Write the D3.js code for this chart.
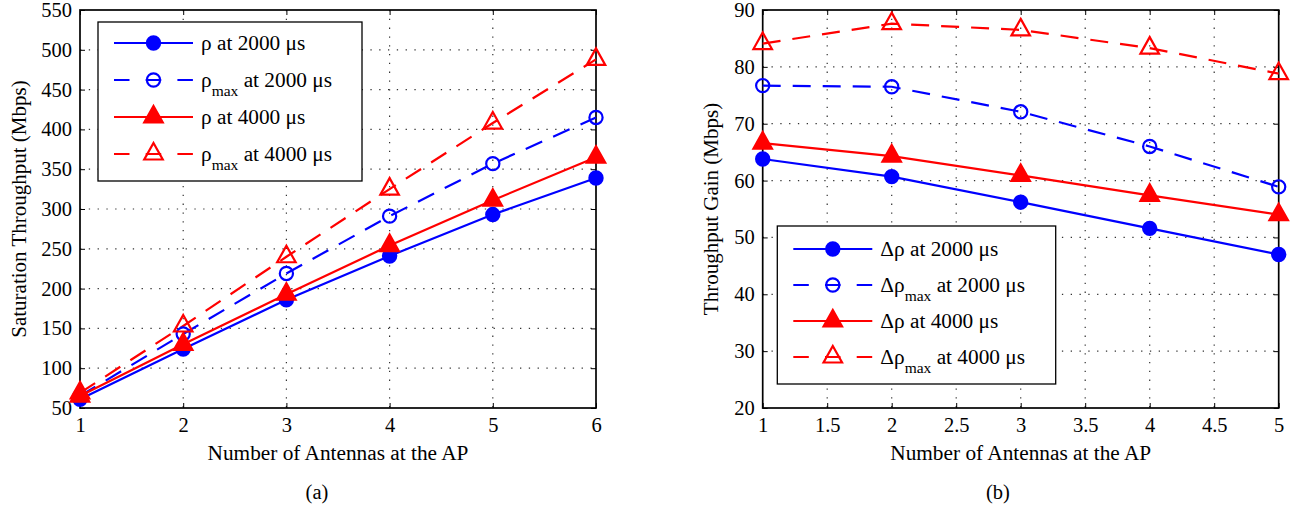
<!DOCTYPE html>
<html>
<head>
<meta charset="utf-8">
<script src="https://cdn.jsdelivr.net/npm/d3@7"></script>
<style>
  html, body { margin: 0; padding: 0; background: #fff; }
  svg { display: block; }
  svg text { font-family: "Liberation Serif", "Times New Roman", "DejaVu Serif", serif; }
</style>
</head>
<body>
<svg id="fig" width="1299" height="508"></svg>
<script>
// ---- (a) Saturation throughput vs. number of AP antennas ----
const antennasA = [1, 2, 3, 4, 5, 6];
const rho2000 = [61, 124, 186, 241, 293, 339];
const rhoMax2000 = [65, 143, 219, 291, 357, 415];
const rho4000 = [65, 130, 193, 254, 311, 365];
const rhoMax4000 = [69, 153, 240, 325, 408, 488];
const ticksXA = [1, 2, 3, 4, 5, 6];
const ticksYA = [50, 100, 150, 200, 250, 300, 350, 400, 450, 500, 550];

// ---- (b) Throughput gain vs. number of AP antennas ----
const antennasB = [1, 2, 3, 4, 5];
const gain2000 = [63.8, 60.7, 56.2, 51.6, 47.0];
const gainMax2000 = [76.7, 76.5, 72.1, 66.0, 58.9];
const gain4000 = [66.6, 64.3, 60.9, 57.4, 54.0];
const gainMax4000 = [84.1, 87.6, 86.5, 83.3, 78.8];
const ticksXB = [1, 1.5, 2, 2.5, 3, 3.5, 4, 4.5, 5];
const ticksYB = [20, 30, 40, 50, 60, 70, 80, 90];

const BLUE = "#0000ff", RED = "#ff0000";
const FONT = "Liberation Serif, Times New Roman, serif";

const svg = d3.select("#fig");

// marker path generators, centred on the data point (triangle on its centroid)
function markerPath(kind) {
  if (kind === "circle") {
    const r = 6.6;
    return `M${r},0A${r},${r} 0 1,1 ${-r},0A${r},${r} 0 1,1 ${r},0Z`;
  }
  const w = 18.5, h = 16.5;
  return `M0,${-2 * h / 3}L${w / 2},${h / 3}L${-w / 2},${h / 3}Z`;
}

function drawPanel(cfg) {
  const g = svg.append("g").attr("font-family", FONT);
  const x = d3.scaleLinear().domain(cfg.xDomain).range([cfg.left, cfg.right]);
  const y = d3.scaleLinear().domain(cfg.yDomain).range([cfg.bottom, cfg.top]);
  const W = cfg.right - cfg.left, H = cfg.bottom - cfg.top;

  // dotted grid
  const grid = g.append("g").attr("stroke", "#333").attr("stroke-width", 1.2)
    .attr("stroke-dasharray", "1.3,7.5");
  grid.selectAll("line.gx").data(cfg.ticksX.slice(1, -1)).join("line")
    .attr("x1", d => x(d)).attr("x2", d => x(d))
    .attr("y1", cfg.top).attr("y2", cfg.bottom);
  grid.selectAll("line.gy").data(cfg.ticksY.slice(1, -1)).join("line")
    .attr("y1", d => y(d)).attr("y2", d => y(d))
    .attr("x1", cfg.left).attr("x2", cfg.right);

  // axes with inward ticks on all four sides
  const fmt = d => String(d);
  const axB = g.append("g").attr("transform", `translate(0,${cfg.bottom})`)
    .call(d3.axisBottom(x).tickValues(cfg.ticksX).tickFormat(fmt).tickSizeInner(-5).tickSizeOuter(0).tickPadding(12));
  const axL = g.append("g").attr("transform", `translate(${cfg.left},0)`)
    .call(d3.axisLeft(y).tickValues(cfg.ticksY).tickFormat(fmt).tickSizeInner(-5).tickSizeOuter(0).tickPadding(8));
  const axT = g.append("g").attr("transform", `translate(0,${cfg.top})`)
    .call(d3.axisTop(x).tickValues(cfg.ticksX).tickFormat("").tickSizeInner(-5).tickSizeOuter(0));
  const axR = g.append("g").attr("transform", `translate(${cfg.right},0)`)
    .call(d3.axisRight(y).tickValues(cfg.ticksY).tickFormat("").tickSizeInner(-5).tickSizeOuter(0));
  [axB, axL, axT, axR].forEach(a => {
    a.attr("font-family", FONT).attr("font-size", 20.5);
    a.select(".domain").remove();
    a.selectAll(".tick line").attr("stroke", "#000").attr("stroke-width", 1);
    a.selectAll("text").attr("fill", "#000");
  });
  axB.selectAll("text").attr("dy", "0.6em");

  // box
  g.append("rect").attr("x", cfg.left).attr("y", cfg.top).attr("width", W).attr("height", H)
    .attr("fill", "none").attr("stroke", "#000").attr("stroke-width", 1.7);

  // axis titles
  g.append("text").attr("x", (cfg.left + cfg.right) / 2).attr("y", cfg.bottom + 52)
    .attr("text-anchor", "middle").attr("font-size", 21.3).text(cfg.xLabel);
  g.append("text").attr("transform", `translate(${cfg.yLabelX},${(cfg.top + cfg.bottom) / 2}) rotate(-90)`)
    .attr("text-anchor", "middle").attr("dy", "0.35em").attr("font-size", 21).text(cfg.yLabel);
  g.append("text").attr("x", cfg.captionX).attr("y", 499)
    .attr("text-anchor", "middle").attr("font-size", 20.5).text(cfg.caption);

  // series
  const line = d3.line().x(d => x(d[0])).y(d => y(d[1]));
  cfg.series.forEach(s => {
    const pts = cfg.xs.map((v, i) => [v, s.values[i]]);
    g.append("path").datum(pts).attr("d", line).attr("fill", "none")
      .attr("stroke", s.color).attr("stroke-width", 2.2)
      .attr("stroke-dasharray", s.dashed ? "18,12" : null);
  });
  cfg.series.forEach(s => {
    const pts = cfg.xs.map((v, i) => [v, s.values[i]]);
    g.selectAll(null).data(pts).join("path")
      .attr("transform", d => `translate(${x(d[0])},${y(d[1])})`)
      .attr("d", markerPath(s.marker))
      .attr("fill", s.filled ? s.color : "none")
      .attr("stroke", s.color).attr("stroke-width", 2.2);
  });

  // legend
  const L = cfg.legend;
  const lg = g.append("g");
  lg.append("rect").attr("x", L.x).attr("y", L.y).attr("width", L.w).attr("height", L.h)
    .attr("fill", "#fff").attr("stroke", "#000").attr("stroke-width", 1.3);
  cfg.series.forEach((s, i) => {
    const ry = L.y + L.firstRow + i * L.rowGap;
    const x0 = L.x + 16, x1 = x0 + 79;
    lg.append("line").attr("x1", x0).attr("x2", x1).attr("y1", ry).attr("y2", ry)
      .attr("stroke", s.color).attr("stroke-width", 2.2)
      .attr("stroke-dasharray", s.dashed ? "15.5,16.2" : null);
    lg.append("path").attr("transform", `translate(${(x0 + x1) / 2},${ry})`)
      .attr("d", markerPath(s.marker))
      .attr("fill", s.filled ? s.color : "none")
      .attr("stroke", s.color).attr("stroke-width", 2.2);
    const t = lg.append("text").attr("x", x1 + 8).attr("y", ry + 7).attr("font-size", 21.3);
    t.append("tspan").text(s.name);
    if (s.sub) {
      t.append("tspan").attr("dy", 9).attr("font-size", 15.5).text(s.sub);
      t.append("tspan").attr("dy", -9).text(" " + s.rest);
    } else {
      t.append("tspan").text(" " + s.rest);
    }
  });
}

drawPanel({
  left: 80, right: 596, top: 10, bottom: 408,
  xDomain: [1, 6], yDomain: [50, 550],
  ticksX: ticksXA, ticksY: ticksYA, xs: antennasA,
  xLabel: "Number of Antennas at the AP",
  yLabel: "Saturation Throughput (Mbps)", yLabelX: 19,
  caption: "(a)", captionX: 317,
  series: [
    { name: "ρ", rest: "at 2000 μs", values: rho2000, color: BLUE, marker: "circle", filled: true, dashed: false },
    { name: "ρ", sub: "max", rest: "at 2000 μs", values: rhoMax2000, color: BLUE, marker: "circle", filled: false, dashed: true },
    { name: "ρ", rest: "at 4000 μs", values: rho4000, color: RED, marker: "triangle", filled: true, dashed: false },
    { name: "ρ", sub: "max", rest: "at 4000 μs", values: rhoMax4000, color: RED, marker: "triangle", filled: false, dashed: true }
  ],
  legend: { x: 98, y: 22, w: 264, h: 159, firstRow: 21, rowGap: 37 }
});

drawPanel({
  left: 762.7, right: 1278.7, top: 10, bottom: 408,
  xDomain: [1, 5], yDomain: [20, 90],
  ticksX: ticksXB, ticksY: ticksYB, xs: antennasB,
  xLabel: "Number of Antennas at the AP",
  yLabel: "Throughput Gain (Mbps)", yLabelX: 711,
  caption: "(b)", captionX: 998,
  series: [
    { name: "Δρ", rest: "at 2000 μs", values: gain2000, color: BLUE, marker: "circle", filled: true, dashed: false },
    { name: "Δρ", sub: "max", rest: "at 2000 μs", values: gainMax2000, color: BLUE, marker: "circle", filled: false, dashed: true },
    { name: "Δρ", rest: "at 4000 μs", values: gain4000, color: RED, marker: "triangle", filled: true, dashed: false },
    { name: "Δρ", sub: "max", rest: "at 4000 μs", values: gainMax4000, color: RED, marker: "triangle", filled: false, dashed: true }
  ],
  legend: { x: 777.3, y: 226, w: 278.4, h: 158, firstRow: 23, rowGap: 36 }
});
</script>
</body>
</html>
